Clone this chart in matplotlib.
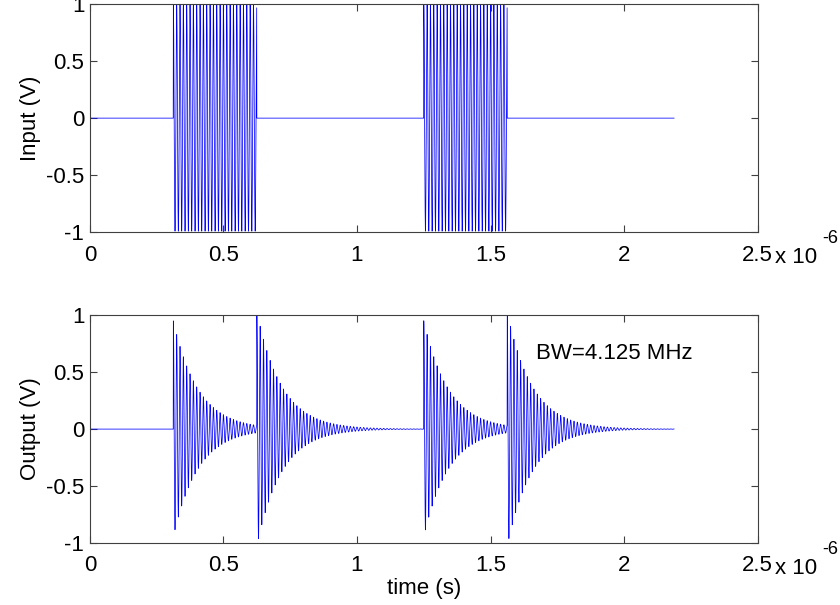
import numpy as np
import matplotlib.pyplot as plt

plt.rcParams['font.family'] = ['Liberation Sans', 'DejaVu Sans']

# values
burst_starts = [0.3125e-6, 1.25e-6]      # s
burst_ends = [0.625e-6, 1.5625e-6]       # s
t_stop = 2.1875e-6                       # s
carrier_freq = 80e6                      # Hz, ~25 cycles per burst
edge_amps = [0.95, 1.0, 0.95, 1.0]       # first spike of output at each edge
decay_tau = 0.093e-6                     # s, ring-down of the output envelope
dt = 0.5e-9

t = np.arange(0, t_stop, dt)

# input: gated carrier
x = np.zeros_like(t)
for a, b in zip(burst_starts, burst_ends):
    on = (t >= a) & (t < b)
    x[on] = np.cos(2 * np.pi * carrier_freq * t[on])

# output: ring-down starting at every burst edge
edges = sorted(burst_starts + burst_ends)
y = np.zeros_like(t)
for e, amp in zip(edges, edge_amps):
    m = t >= e
    y[m] += amp * np.exp(-(t[m] - e) / decay_tau) * np.cos(2 * np.pi * carrier_freq * (t[m] - e))

fig = plt.figure(figsize=(8.4, 6.05), dpi=100)
ax1 = fig.add_axes([0.107, 0.6165, 0.795, 0.3765])
ax2 = fig.add_axes([0.107, 0.1025, 0.795, 0.3765])

fs = 16
for ax, sig, lab in [(ax1, x, 'Input (V)'), (ax2, y, 'Output (V)')]:
    ax.plot(t, sig, color='#0000ff', lw=0.55)
    ax.set_xlim(0, 2.5e-6)
    ax.set_ylim(-1, 1)
    ax.set_xticks(np.arange(0, 2.51e-6, 0.5e-6))
    ax.set_xticklabels(['0', '0.5', '1', '1.5', '2', '2.5'])
    ax.set_yticks([-1, -0.5, 0, 0.5, 1])
    ax.set_yticklabels(['-1', '-0.5', '0', '0.5', '1'])
    ax.tick_params(direction='in', top=True, right=True, labelsize=fs,
                   length=5, width=0.8, color='#404040')
    ax.tick_params(axis='x', pad=9)
    ax.tick_params(axis='y', pad=4)
    for s in ax.spines.values():
        s.set_color('#404040')
        s.set_linewidth(0.8)
    ax.set_ylabel(lab, fontsize=fs, labelpad=4)
    ax.text(1.026, -0.065, 'x 10', transform=ax.transAxes, fontsize=fs, va='top', ha='left')
    ax.text(1.096, 0.01, '-6', transform=ax.transAxes, fontsize=13, va='top', ha='left')

ax2.text(1.67e-6, 0.66, 'BW=4.125 MHz', fontsize=fs, va='center')
ax2.set_xlabel('time (s)', fontsize=fs, labelpad=1)

fig.savefig('out.png', dpi=100)
